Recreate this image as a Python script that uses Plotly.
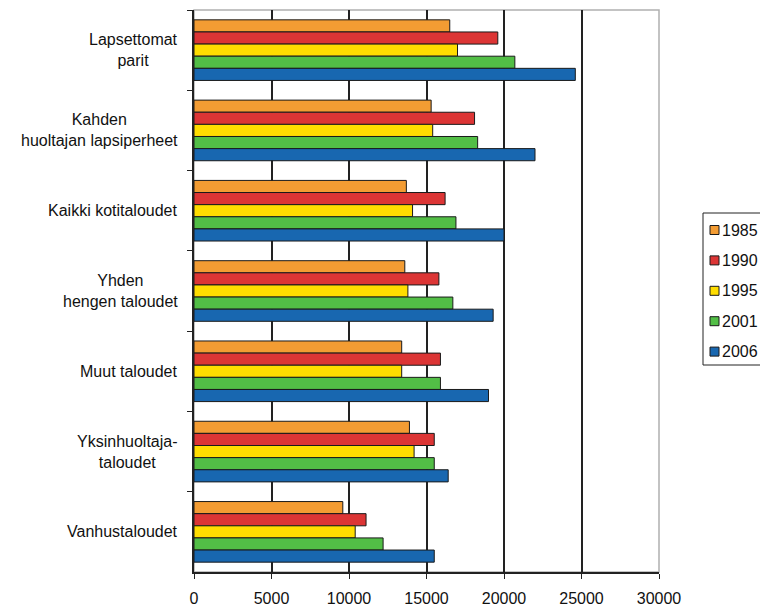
import plotly.graph_objects as go

categories = [
    "Lapsettomat<br>parit",
    "Kahden<br>huoltajan lapsiperheet",
    "Kaikki kotitaloudet",
    "Yhden<br>hengen taloudet",
    "Muut taloudet",
    "Yksinhuoltaja-<br>taloudet",
    "Vanhustaloudet",
]
years = ["1985", "1990", "1995", "2001", "2006"]

v1985 = [16500, 15300, 13700, 13600, 13400, 13900, 9600]
v1990 = [19600, 18100, 16200, 15800, 15900, 15500, 11100]
v1995 = [17000, 15400, 14100, 13800, 13400, 14200, 10400]
v2001 = [20700, 18300, 16900, 16700, 15900, 15500, 12200]
v2006 = [24600, 22000, 20000, 19300, 19000, 16400, 15500]

series = [v1985, v1990, v1995, v2001, v2006]
colors = ["#F39C33", "#DC3535", "#FFDD00", "#52BE46", "#1867B0"]

FONT = "Liberation Sans, Arial, sans-serif"

fig = go.Figure()
for year, vals, col in zip(years, series, colors):
    fig.add_trace(
        go.Bar(
            x=vals,
            y=categories,
            orientation="h",
            name=year,
            marker=dict(color=col, line=dict(color="#1a1a1a", width=1)),
        )
    )

# category labels, centred lines like the original
for cat in categories:
    fig.add_annotation(
        x=0,
        y=cat,
        xref="paper",
        yref="y",
        text=cat,
        showarrow=False,
        xanchor="right",
        align="center",
        xshift=-14,
        font=dict(size=16, color="#111"),
    )

# plot frame (light grey top/right)
fig.add_shape(
    type="rect", xref="paper", yref="paper", x0=0, x1=1, y0=0, y1=1,
    line=dict(color="#b0b0b0", width=1.5), layer="below",
)

# hand-drawn legend box to the right of the plot (plot area is 465 x 562 px)
pw, ph = 465.0, 562.0


def px_x(dx):
    return 1 + dx / pw


def px_y(dy):
    return 1 - dy / ph


fig.add_shape(
    type="rect", xref="paper", yref="paper",
    x0=px_x(44), x1=px_x(108), y0=px_y(203), y1=px_y(355),
    line=dict(color="#222", width=1), fillcolor="white",
)
for i, (year, col) in enumerate(zip(years, colors)):
    cy = 220 + i * 30.4
    fig.add_shape(
        type="rect", xref="paper", yref="paper",
        x0=px_x(51), x1=px_x(60), y0=px_y(cy + 4.5), y1=px_y(cy - 4.5),
        line=dict(color="#1a1a1a", width=1), fillcolor=col,
    )
    fig.add_annotation(
        x=px_x(61), y=px_y(cy), xref="paper", yref="paper",
        text=year, showarrow=False, xanchor="left", yanchor="middle",
        font=dict(size=16, color="#111"),
    )

fig.update_layout(
    width=760,
    height=598,
    barmode="group",
    bargap=0.245,
    bargroupgap=0,
    margin=dict(l=186, r=109, t=2, b=34, autoexpand=False),
    plot_bgcolor="white",
    paper_bgcolor="white",
    font=dict(family=FONT, size=16, color="#111"),
    showlegend=False,
)

fig.update_xaxes(
    range=[0, 30000],
    dtick=5000,
    tickformat="d",
    showgrid=True,
    gridcolor="#222",
    gridwidth=1.5,
    showline=True,
    linecolor="#222",
    linewidth=1.5,
    ticks="outside",
    ticklen=5,
    tickcolor="#222",
    ticklabelstandoff=6,
    zeroline=False,
    fixedrange=True,
)
fig.update_yaxes(
    categoryorder="array",
    categoryarray=categories,
    autorange="reversed",
    showticklabels=False,
    showline=True,
    linecolor="#222",
    linewidth=1.5,
    ticks="outside",
    tickson="boundaries",
    ticklen=5,
    tickcolor="#222",
    showgrid=False,
)

fig.write_html("out.html")
